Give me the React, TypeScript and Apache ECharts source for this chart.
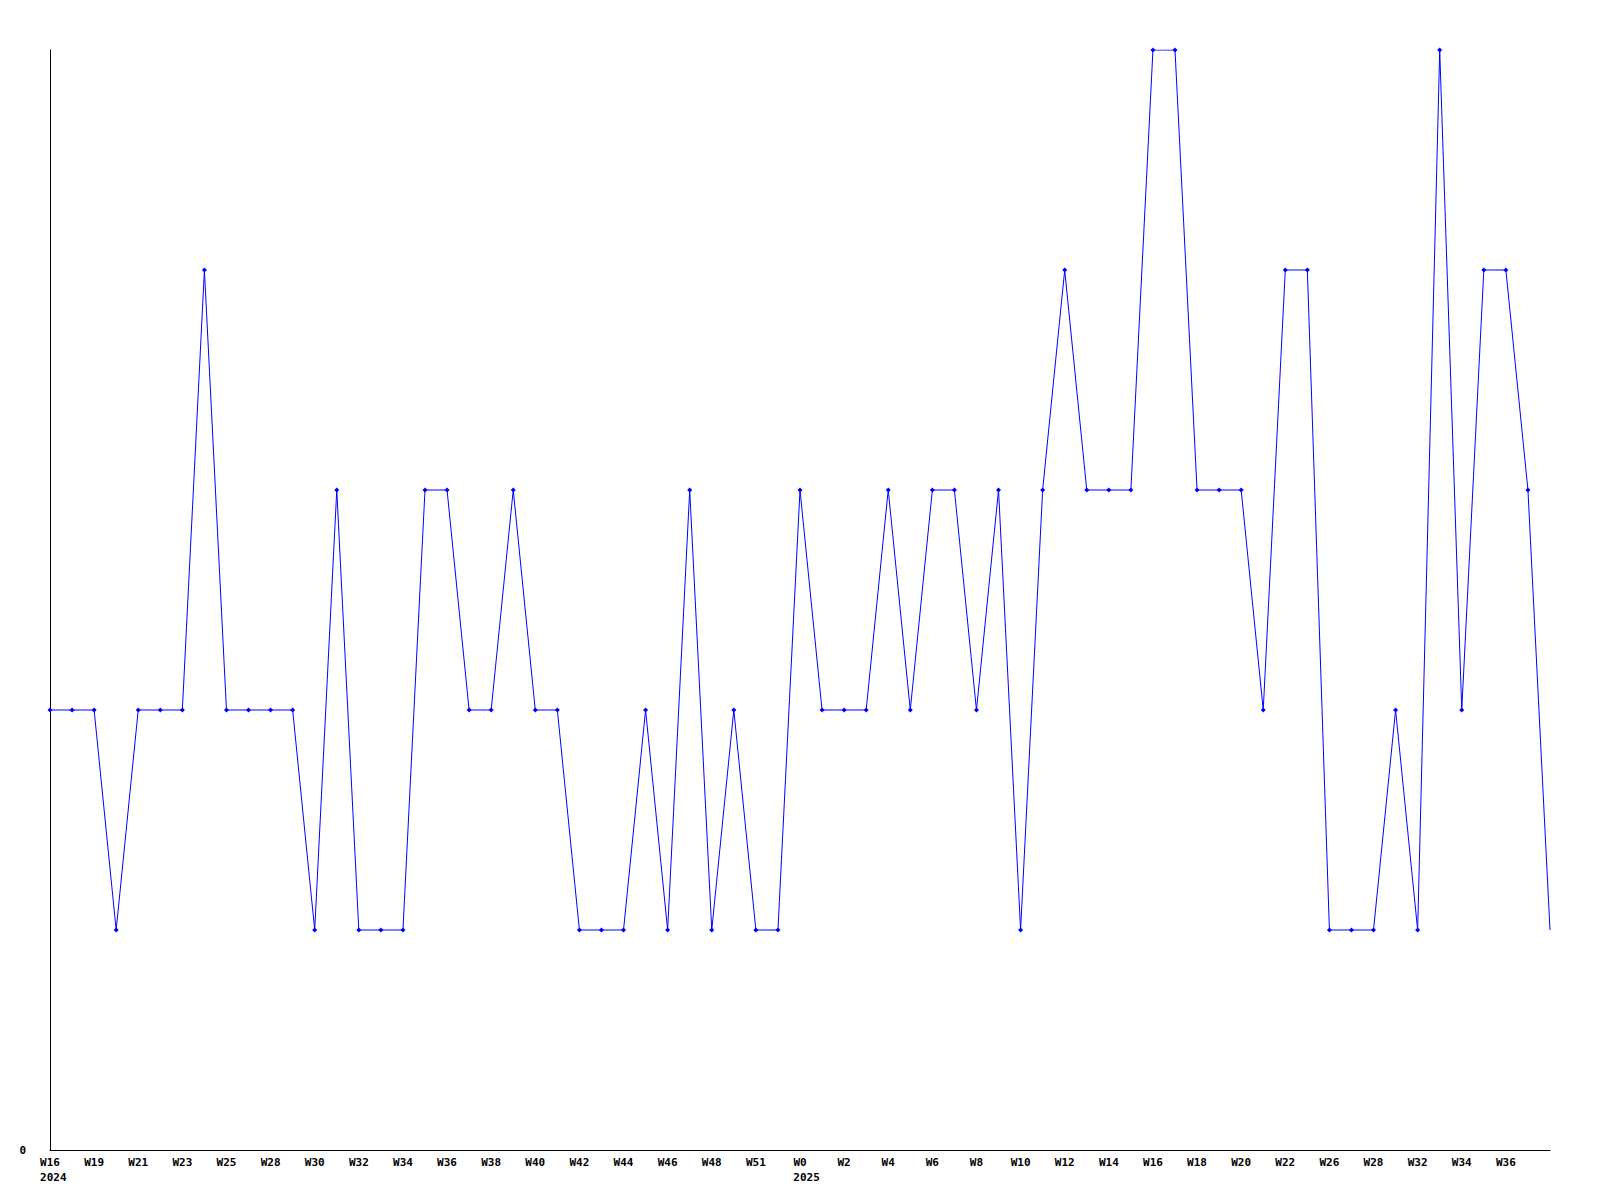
import React, { useEffect, useRef } from "react";
import * as echarts from "echarts";

const weeks: string[] = [
  "W16", "W17", "W19", "W20", "W21", "W22", "W23", "W24", "W25", "W27",
  "W28", "W29", "W30", "W31", "W32", "W33", "W34", "W35", "W36", "W37",
  "W38", "W39", "W40", "W41", "W42", "W43", "W44", "W45", "W46", "W47",
  "W48", "W50", "W51", "W52", "W0", "W1", "W2", "W3", "W4", "W5",
  "W6", "W7", "W8", "W9", "W10", "W11", "W12", "W13", "W14", "W15",
  "W16", "W17", "W18", "W19", "W20", "W21", "W22", "W24", "W26", "W27",
  "W28", "W30", "W32", "W33", "W34", "W35", "W36", "W37", "W38",
];

const yearLabels: Record<number, string> = { 0: "2024", 34: "2025" };

const values: number[] = [
  2, 2, 2, 1, 2, 2, 2, 4, 2, 2,
  2, 2, 1, 3, 1, 1, 1, 3, 3, 2,
  2, 3, 2, 2, 1, 1, 1, 2, 1, 3,
  1, 2, 1, 1, 3, 2, 2, 2, 3, 2,
  3, 3, 2, 3, 1, 3, 4, 3, 3, 3,
  5, 5, 3, 3, 3, 2, 4, 4, 1, 1,
  1, 2, 1, 5, 2, 4, 4, 3, 1,
];

const FONT = "DejaVu Sans Mono";
const CHAR_W = 6.6;

export default function App() {
  const ref = useRef<HTMLDivElement>(null);
  useEffect(() => {
    if (!ref.current) return;
    const chart = echarts.init(ref.current, undefined, { renderer: "svg" });
    const last = weeks.length - 1;
    chart.setOption({
      animation: false,
      backgroundColor: "#ffffff",
      grid: { left: 50, right: 50, top: 50, bottom: 50, containLabel: false },
      xAxis: {
        type: "category",
        data: weeks,
        boundaryGap: false,
        axisLine: { lineStyle: { color: "#000", width: 1 } },
        axisTick: { show: false },
        splitLine: { show: false },
        axisLabel: {
          interval: (idx: number) => idx % 2 === 0 && idx < last,
          margin: 5,
          fontFamily: FONT,
          fontWeight: "bold",
          fontSize: 11,
          color: "#000",
          lineHeight: 15,
          formatter: (val: string, idx: number) => {
            const y = yearLabels[idx];
            if (y) {
              return `{w|${val}}\n{y${val.length}|${y}}`;
            }
            return `{w|${val}}`;
          },
          rich: {
            w: { fontFamily: FONT, fontWeight: "bold", fontSize: 11, color: "#000", lineHeight: 15 },
            y2: { fontFamily: FONT, fontWeight: "bold", fontSize: 11, color: "#000", lineHeight: 15, padding: [0, 0, 0, 2 * CHAR_W] },
            y3: { fontFamily: FONT, fontWeight: "bold", fontSize: 11, color: "#000", lineHeight: 15, padding: [0, 0, 0, CHAR_W] },
          },
        },
      },
      yAxis: {
        type: "value",
        min: 0,
        max: 5,
        interval: 5,
        axisLine: { show: true, lineStyle: { color: "#000", width: 1 } },
        axisTick: { show: false },
        splitLine: { show: false },
        axisLabel: {
          margin: 24,
          fontFamily: FONT,
          fontWeight: "bold",
          fontSize: 11,
          color: "#000",
          formatter: (v: number) => (v === 0 ? "0" : ""),
        },
      },
      series: [
        {
          type: "line",
          data: values.map((v, i) => (i === last ? { value: v, symbolSize: 0 } : v)),
          symbol: "diamond",
          symbolSize: 5,
          showAllSymbol: true,
          itemStyle: { color: "#0000ff" },
          lineStyle: { color: "#0000ff", width: 1 },
          emphasis: { disabled: true },
        },
      ],
    });
    return () => chart.dispose();
  }, []);
  return <div ref={ref} style={{ width: 1600, height: 1200, position: "absolute", left: 0, top: 0 }} />;
}
